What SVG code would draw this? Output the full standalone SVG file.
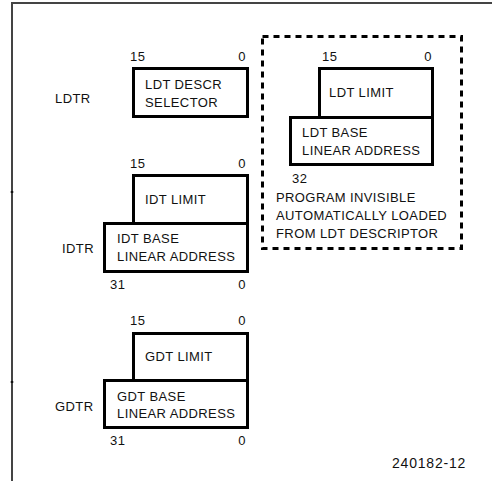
<svg xmlns="http://www.w3.org/2000/svg" width="492" height="481" viewBox="0 0 492 481">
<style>
text{font-family:"Liberation Sans",Arial,sans-serif;font-size:13px;fill:#111;letter-spacing:0.4px}
.box{fill:#fff;stroke:#000;stroke-width:3;stroke-linejoin:miter}
.frame{fill:none;stroke:#444;stroke-width:2}
.dash{fill:none;stroke:#000;stroke-width:3;stroke-dasharray:6 5}
.r{text-anchor:end}
</style>
<rect width="492" height="481" fill="#fff"/>
<g id="frame">
<path class="frame" d="M12,481 V3 H492"/>
<path d="M12,191 V193 M12,381 V383" stroke="#111" stroke-width="2.5" fill="none"/>
</g>
<g id="ldtr">
<text x="55" y="103">LDTR</text>
<text x="130" y="61">15</text>
<text x="246" y="61" class="r">0</text>
<rect class="box" x="133.5" y="68.5" width="114" height="48"/>
<text x="145" y="89">LDT DESCR</text>
<text x="145" y="107">SELECTOR</text>
</g>
<g id="ldt-invisible">
<rect class="dash" x="262.5" y="36.5" width="199" height="212"/>
<text x="322" y="61">15</text>
<text x="432" y="61" class="r">0</text>
<path class="box" d="M319.5,117.5 V68.5 H432.5 V117.5"/>
<rect class="box" x="290.5" y="117.5" width="142" height="47"/>
<text x="329" y="97">LDT LIMIT</text>
<text x="302" y="137">LDT BASE</text>
<text x="302" y="155">LINEAR ADDRESS</text>
<text x="292" y="183">32</text>
<text x="276" y="202">PROGRAM INVISIBLE</text>
<text x="276" y="220">AUTOMATICALLY LOADED</text>
<text x="276" y="238">FROM LDT DESCRIPTOR</text>
</g>
<g id="idtr">
<text x="62" y="253">IDTR</text>
<text x="130" y="168">15</text>
<text x="246" y="168" class="r">0</text>
<path class="box" d="M133.5,223.5 V175.5 H247.5 V223.5"/>
<rect class="box" x="104.5" y="223.5" width="143" height="48"/>
<text x="145" y="204">IDT LIMIT</text>
<text x="117" y="243">IDT BASE</text>
<text x="117" y="261">LINEAR ADDRESS</text>
<text x="110" y="289">31</text>
<text x="246" y="289" class="r">0</text>
</g>
<g id="gdtr">
<text x="55" y="411">GDTR</text>
<text x="130" y="325">15</text>
<text x="246" y="325" class="r">0</text>
<path class="box" d="M133.5,380.5 V333.5 H247.5 V380.5"/>
<rect class="box" x="104.5" y="380.5" width="143" height="47"/>
<text x="145" y="361">GDT LIMIT</text>
<text x="117" y="401">GDT BASE</text>
<text x="117" y="418">LINEAR ADDRESS</text>
<text x="110" y="445">31</text>
<text x="246" y="445" class="r">0</text>
</g>
<g id="connectors"></g>
<text x="392" y="468" style="font-size:14px;letter-spacing:0.8px">240182-12</text>
</svg>
